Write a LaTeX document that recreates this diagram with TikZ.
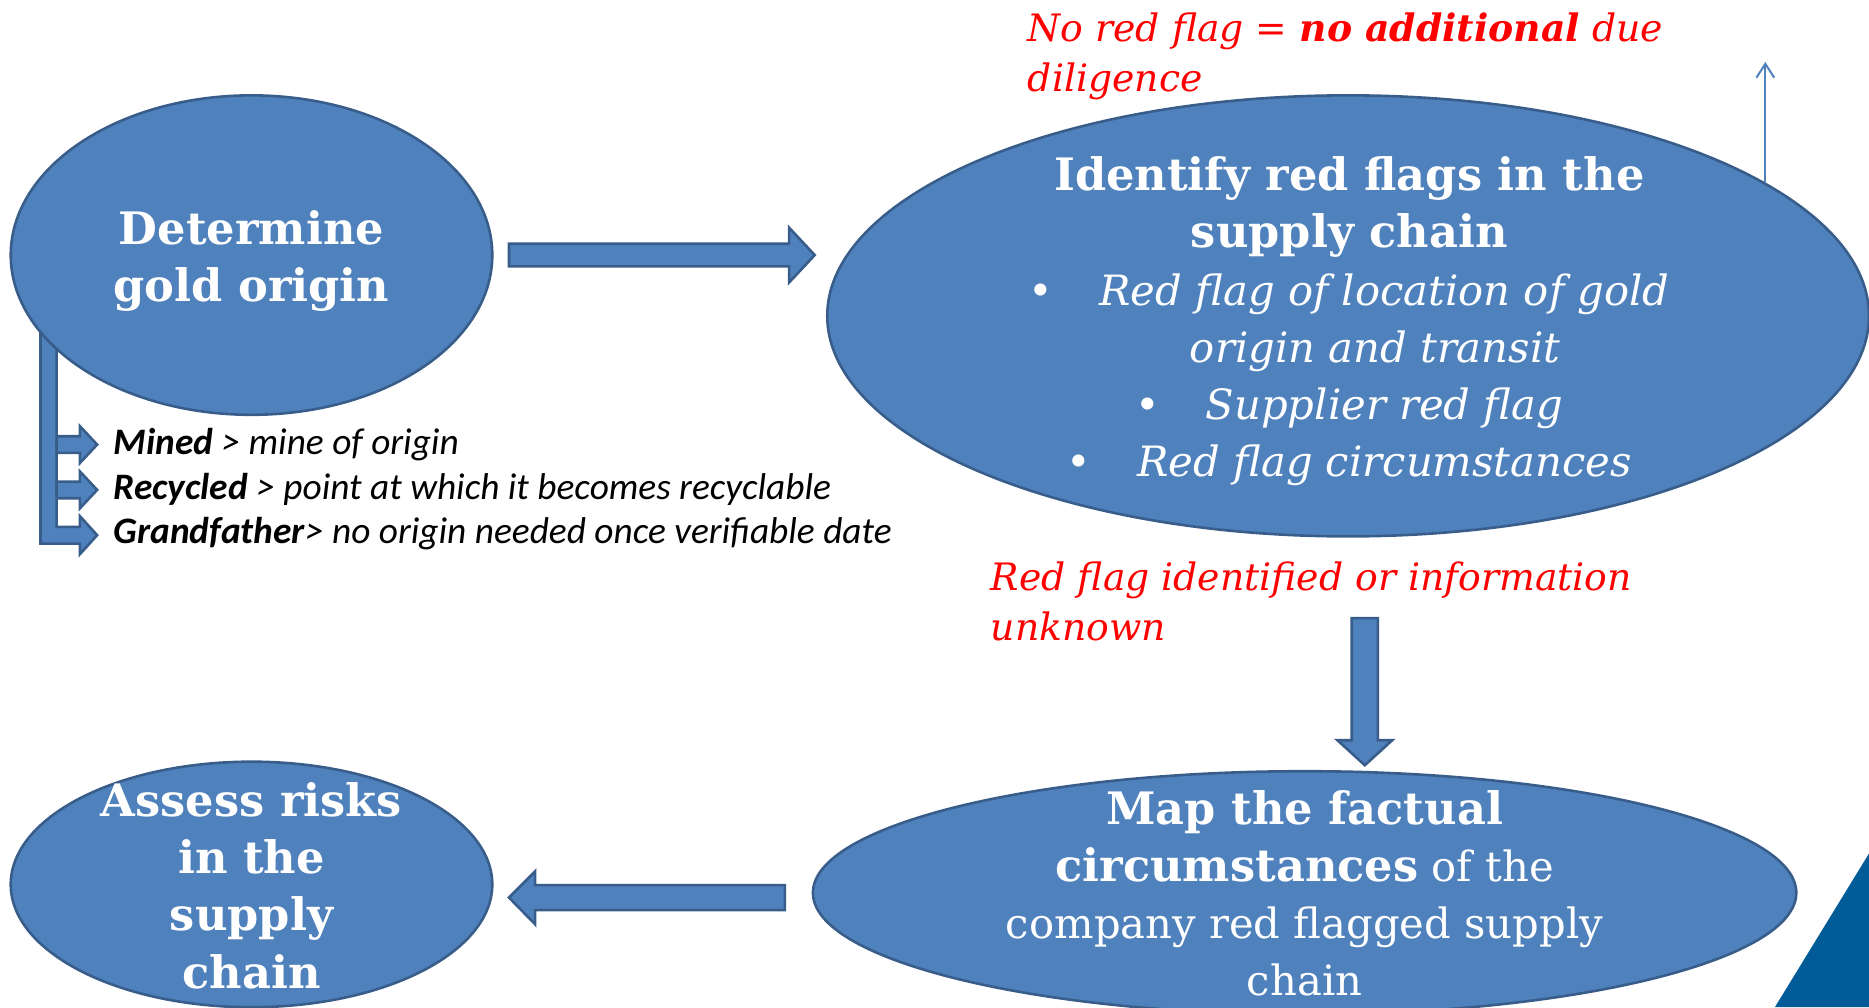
\documentclass[tikz,border=0pt]{standalone}
\usepackage{fontspec}
\setmainfont{DejaVu Serif}
\newfontfamily\calibri{Carlito}
\usetikzlibrary{shapes.geometric,arrows.meta}

\definecolor{blobfill}{HTML}{4F81BD}
\definecolor{blobline}{HTML}{385D8A}
\definecolor{cornerblue}{HTML}{005B96}
\definecolor{flagred}{HTML}{FF0000}

% bold words in the ellipses are set a little larger
\newcommand\heavy[1]{{\fontsize{22.5}{28.8}\selectfont\bfseries #1}}

\tikzset{
  blob/.style={ellipse, fill=blobfill, draw=blobline, line width=1.3pt, inner sep=0pt},
  blockarrow/.style={fill=blobfill, draw=blobline, line width=1.3pt, line join=miter},
  headtxt/.style={text=white, align=center, inner sep=0pt, anchor=base,
    font=\fontsize{21}{28.8}\selectfont},
  redtxt/.style={text=flagred, align=left, inner sep=0pt, anchor=base west,
    font=\fontsize{19}{25.2}\selectfont\itshape},
  notetxt/.style={anchor=base west, inner sep=0pt,
    font=\calibri\fontsize{18.8}{22.8}\selectfont\itshape},
}

\begin{document}
\begin{tikzpicture}[x=0.6pt, y=-0.6pt]

    % Page frame (pixel grid of the slide)
    \useasboundingbox (0,0) rectangle (1568,845);

    % Corner decoration
    \fill[cornerblue] (1568,716) -- (1489,845) -- (1568,845) -- cycle;

    % Bent arrow under the first ellipse
    \draw[blockarrow] (34,279) -- (47.5,279) -- (47.5,442) -- (67,442) -- (67,433)
        -- (81.5,449) -- (67,465) -- (67,456) -- (34,456) -- cycle;
    % Two more branches off the bar
    \foreach \y in {373,411} {
        \draw[blockarrow] (47.5,\y-7) -- (67,\y-7) -- (67,\y-15.5) -- (81.5,\y)
            -- (67,\y+15.5) -- (67,\y+7) -- (47.5,\y+7) -- cycle;
    }

    % The four ellipses
    \node[blob, minimum width=242.4pt, minimum height=160.8pt] (origin) at (211,214) {};
    \node[blob, minimum width=524.4pt, minimum height=222pt] (flags) at (1131,265) {};
    \node[blob, minimum width=495pt, minimum height=122.4pt] (mapping) at (1094.5,749) {};
    \node[blob, minimum width=242.4pt, minimum height=123.6pt] (risks) at (211,742) {};

    % Block arrows between the ellipses
    % origin -> flags
    \draw[blockarrow] (427,204.5) -- (662,204.5) -- (662,191) -- (683.5,214)
        -- (662,237) -- (662,223.5) -- (427,223.5) -- cycle;
    % flags -> mapping
    \draw[blockarrow] (1134,518.5) -- (1156,518.5) -- (1156,621) -- (1168,621)
        -- (1145,642) -- (1122,621) -- (1134,621) -- cycle;
    % mapping -> risks
    \draw[blockarrow] (658.5,742.5) -- (449,742.5) -- (449,731) -- (427,753)
        -- (449,775.5) -- (449,763.5) -- (658.5,763.5) -- cycle;

    % Thin arrow out of the flags ellipse
    \coordinate (flagrim) at (1481,153);
    \coordinate (flagtip) at (1481,52);
    \draw[blobfill, line width=1pt, -{Straight Barb[length=7pt, width=9pt]}] (flagrim) -- (flagtip);

    % Texts in the ellipses (anchored on the last baseline)
    \node[headtxt] (originlbl) at (211,253) {\heavy{Determine}\\\heavy{gold origin}};
    \node[headtxt] (flagslbl) at (1132,400) {\heavy{Identify red flags in the}\\
        \heavy{supply chain}\\
        \textbullet\hspace{1.1em}\textit{Red flag of location of gold}\\
        \hspace*{26pt}\textit{origin and transit}\\
        \textbullet\hspace{1.1em}\textit{Supplier red flag}\\
        \textbullet\hspace{1.1em}\textit{Red flag circumstances}};
    \node[headtxt] (mappinglbl) at (1094.5,835.5) {\heavy{Map the factual}\\
        \heavy{circumstances} of the\\company red flagged supply\\chain};
    \node[headtxt] (riskslbl) at (211,829) {\heavy{Assess risks}\\\heavy{in the}\\
        \heavy{supply}\\\heavy{chain}};

    % Notes under the first ellipse
    \node[notetxt] (mined) at (95,381) {\textbf{Mined} > mine of origin};
    \node[notetxt] (recycled) at (95,419) {\textbf{Recycled} > point at which it becomes recyclable};
    \node[notetxt] (grandfather) at (95,456) {\textbf{Grandfather}> no origin needed once verifiable date};

    % Red remarks
    \node[redtxt] (nored) at (862,77) {No red flag = \textbf{no additional} due\\diligence};
    \node[redtxt] (redfound) at (831,537) {Red flag identified or information\\unknown};

\end{tikzpicture}
\end{document}
